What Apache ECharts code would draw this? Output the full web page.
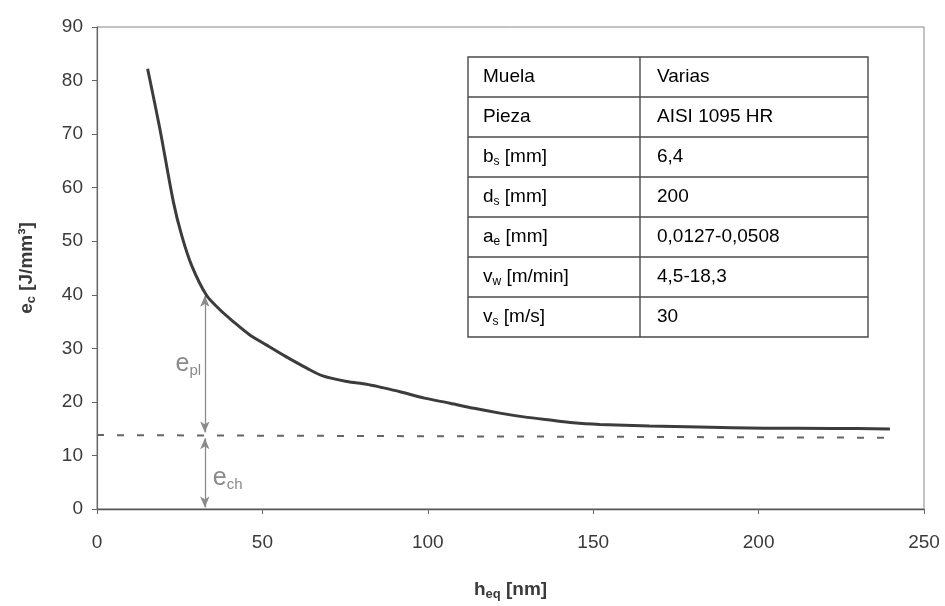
<!DOCTYPE html>
<html><head><meta charset="utf-8">
<script src="https://cdn.jsdelivr.net/npm/echarts@6/dist/echarts.min.js"></script>
<style>html,body{margin:0;padding:0;background:#fff}#c{width:945px;height:606px}</style>
</head><body><div id="c"></div>
<script>
// ---- data ----
const hEq = [15.3,19.0,23.1,25.6,28.6,33.1,37.0,41.2,46,51.3,57,63.4,68,75.5,81.5,86,91.6,99,106.7,114,121.8,129,136.9,144,152,167,182,202,222,239.7];
const ec   = [82.2,71.0,57.3,51.1,45.5,39.9,37.3,35,32.6,30.6,28.5,26.3,24.9,23.8,23.3,22.7,21.9,20.7,19.75,18.8,17.9,17.2,16.6,16.1,15.8,15.5,15.3,15.1,15.05,14.95];
const chipX = [0, 240];
const chipY = [13.8, 13.3];
const arrowX = 32.6;
const eplRange = [14.3, 39.8];
const echRange = [0.3, 13.2];
const xTicks = [0, 50, 100, 150, 200, 250];
const yTicks = [0, 10, 20, 30, 40, 50, 60, 70, 80, 90];
// table: [base, subscript, rest] and value
const paramNames = [['Muela','',''],['Pieza','',''],['b','s',' [mm]'],['d','s',' [mm]'],['a','e',' [mm]'],['v','w',' [m/min]'],['v','s',' [m/s]']];
const paramValues = ['Varias','AISI 1095 HR','6,4','200','0,0127-0,0508','4,5-18,3','30'];

const FONT = '"Liberation Sans", Arial, sans-serif';
const TXT = '#3a3a3a';
const chart = echarts.init(document.getElementById('c'), null, {renderer:'canvas'});

const subRich = {
  t: {fontSize: 19, fontFamily: FONT, color: TXT, lineHeight: 22},
  s: {fontSize: 12, fontFamily: FONT, color: TXT, lineHeight: 8, verticalAlign: 'bottom'}
};
function richName(p) {
  let s = '{t|' + p[0] + '}';
  if (p[1]) s += '{s|' + p[1] + '}';
  if (p[2]) s += '{t|' + p[2] + '}';
  return s;
}

// table graphic
const TX = 468, TY = 57, TW = 400, RH = 40, C1 = 172;
const tChildren = [];
tChildren.push({type:'rect', shape:{x:0,y:0,width:TW,height:RH*paramNames.length}, style:{fill:'#fff', stroke:'#4a4a4a', lineWidth:1.4}});
for (let i = 1; i < paramNames.length; i++) {
  tChildren.push({type:'line', shape:{x1:0,y1:i*RH,x2:TW,y2:i*RH}, style:{stroke:'#4a4a4a', lineWidth:1.4}});
}
tChildren.push({type:'line', shape:{x1:C1,y1:0,x2:C1,y2:RH*paramNames.length}, style:{stroke:'#4a4a4a', lineWidth:1.4}});
paramNames.forEach((p, i) => {
  tChildren.push({type:'text', x:15, y:i*RH + RH/2, style:{text:richName(p), rich:subRich, verticalAlign:'middle', align:'left'}});
  tChildren.push({type:'text', x:C1+17, y:i*RH + RH/2, style:{text:'{t|' + paramValues[i] + '}', rich:subRich, verticalAlign:'middle', align:'left'}});
});

const option = {
  backgroundColor: '#fff',
  animation: false,
  grid: {left: 97, right: 21, top: 27, bottom: 95, show: true, borderColor: '#888', borderWidth: 1},
  xAxis: {
    type: 'value', min: xTicks[0], max: xTicks[xTicks.length-1], interval: 50,
    name: '{b|h}{bs|eq}{b| [nm]}', nameLocation: 'middle', nameGap: 70,
    nameTextStyle: {rich: {
      b: {fontSize: 19, fontWeight: 'bold', fontFamily: FONT, color: TXT, lineHeight: 22},
      bs: {fontSize: 13, fontWeight: 'bold', fontFamily: FONT, color: TXT, lineHeight: 6, verticalAlign: 'bottom'}
    }},
    axisLine: {show: true, lineStyle: {color: '#555', width: 1.3}},
    axisTick: {show: true, inside: false, length: 5, lineStyle: {color: '#666'}},
    axisLabel: {fontSize: 19, fontFamily: FONT, color: TXT, margin: 24},
    splitLine: {show: false}
  },
  yAxis: {
    type: 'value', min: yTicks[0], max: yTicks[yTicks.length-1], interval: 10,
    name: '{b|e}{bs|c}{b| [J/mm³]}', nameLocation: 'middle', nameGap: 59, nameRotate: 90,
    nameTextStyle: {rich: {
      b: {fontSize: 19, fontWeight: 'bold', fontFamily: FONT, color: TXT, lineHeight: 22},
      bs: {fontSize: 13, fontWeight: 'bold', fontFamily: FONT, color: TXT, lineHeight: 6, verticalAlign: 'bottom'}
    }},
    axisLine: {show: true, lineStyle: {color: '#666', width: 1.2}},
    axisTick: {show: true, inside: false, length: 5, lineStyle: {color: '#666'}},
    axisLabel: {fontSize: 19, fontFamily: FONT, color: TXT, margin: 14},
    splitLine: {show: false}
  },
  series: [
    {
      type: 'line', name: 'ec', data: hEq.map((x, i) => [x, ec[i]]),
      smooth: 0.3, symbol: 'none',
      lineStyle: {color: '#3c3c3c', width: 3}, z: 5
    },
    {
      type: 'line', name: 'ech', data: chipX.map((x, i) => [x, chipY[i]]),
      symbol: 'none', lineStyle: {color: '#666', width: 2, type: [7, 13]}, z: 4,
      markLine: {
        silent: true, symbol: ['arrow', 'arrow'], symbolSize: [7, 11],
        lineStyle: {color: '#8a8a8a', width: 1.3, type: 'solid'},
        label: {show: false},
        data: [
          [{coord: [arrowX, eplRange[0]]}, {coord: [arrowX, eplRange[1]]}],
          [{coord: [arrowX, echRange[0]]}, {coord: [arrowX, echRange[1]]}]
        ]
      },
      markPoint: {
        silent: true, symbol: 'circle', symbolSize: 1, itemStyle: {color: 'rgba(0,0,0,0)'},
        label: {show: true, position: 'inside', rich: {
          e: {fontSize: 25, fontFamily: FONT, color: '#8a8a8a', lineHeight: 28},
          s: {fontSize: 15, fontFamily: FONT, color: '#8a8a8a', lineHeight: 8, verticalAlign: 'bottom'}
        }},
        data: [
          {coord: [27.6, 27.0], label: {formatter: '{e|e}{s|pl}'}},
          {coord: [39.5, 5.8], label: {formatter: '{e|e}{s|ch}'}}
        ]
      }
    }
  ],
  graphic: [{type: 'group', x: TX, y: TY, z: 10, children: tChildren}]
};
chart.setOption(option);
</script></body></html>
